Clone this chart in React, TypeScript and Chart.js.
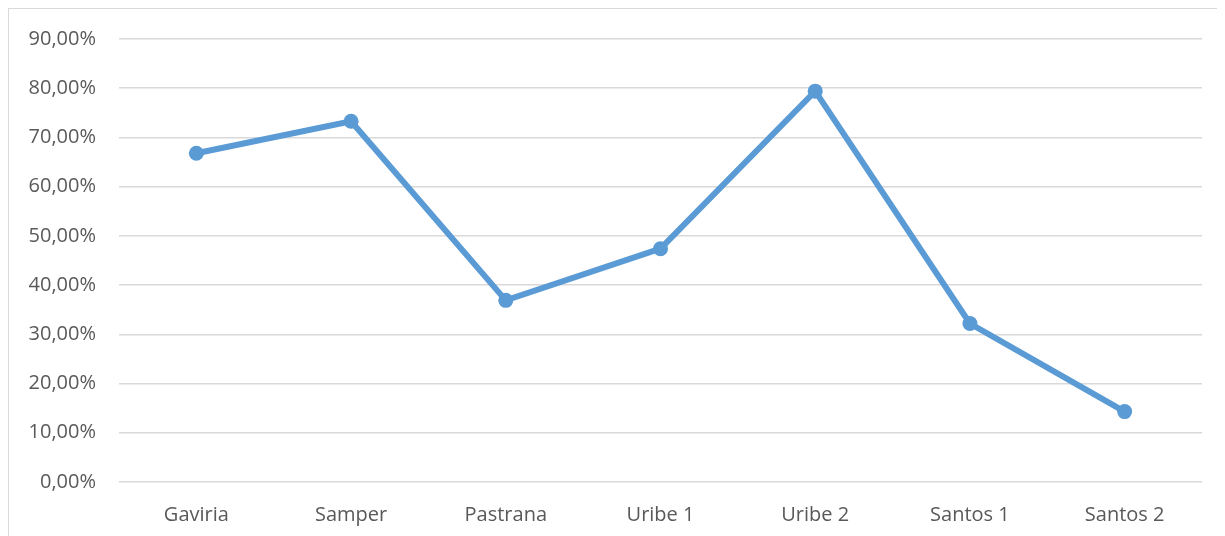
import React, { useEffect, useRef } from "react";
import { Chart, registerables } from "chart.js";

Chart.register(...registerables);

const categories = ["Gaviria", "Samper", "Pastrana", "Uribe 1", "Uribe 2", "Santos 1", "Santos 2"];
const values = [66.8, 73.3, 36.9, 47.4, 79.4, 32.2, 14.3];
const yTicks = [0, 10, 20, 30, 40, 50, 60, 70, 80, 90];

const FONT = "'Open Sans', sans-serif";

export default function App() {
  const ref = useRef<HTMLCanvasElement | null>(null);
  useEffect(() => {
    document.body.style.overflow = "hidden";
    const chart = new Chart(ref.current!, {
      type: "line",
      data: {
        labels: categories,
        datasets: [
          {
            data: values,
            borderColor: "#5B9BD5",
            backgroundColor: "#5B9BD5",
            borderWidth: 6,
            pointRadius: 7.5,
            pointBorderWidth: 0,
            pointBackgroundColor: "#5B9BD5",
            tension: 0,
          },
        ],
      },
      options: {
        responsive: false,
        animation: false,
        layout: { padding: { left: 0, top: 30, right: 23, bottom: 0 } },
        plugins: { legend: { display: false }, tooltip: { enabled: false } },
        scales: {
          x: {
            offset: true,
            grid: { display: false, drawTicks: false },
            border: { display: false },
            ticks: { color: "#595959", font: { family: FONT, size: 20 }, padding: 21 },
            afterFit: (s: any) => { s.height = 54; s.paddingLeft = 0; s.paddingRight = 0; },
          },
          y: {
            min: 0,
            max: 90,
            afterBuildTicks: (s: any) => { s.ticks = yTicks.map((v) => ({ value: v })); },
            grid: { color: "#D9D9D9", lineWidth: 1.5, drawTicks: false },
            border: { display: false },
            ticks: {
              color: "#595959",
              font: { family: FONT, size: 20 },
              padding: 23,
              callback: (v: any) => Number(v).toFixed(2).replace(".", ",") + "%",
            },
            afterFit: (s: any) => { s.width = 110; s.paddingTop = 0; s.paddingBottom = 0; },
          },
        },
      },
    });
    return () => chart.destroy();
  }, []);
  return (
    <div
      style={{
        width: 1217,
        height: 528,
        boxSizing: "border-box",
        borderLeft: "1.5px solid #D9D9D9",
        borderTop: "1.5px solid #D9D9D9",
        background: "#fff",
      }}
    >
      <canvas ref={ref} width={1216} height={527} style={{ display: "block" }} />
    </div>
  );
}
